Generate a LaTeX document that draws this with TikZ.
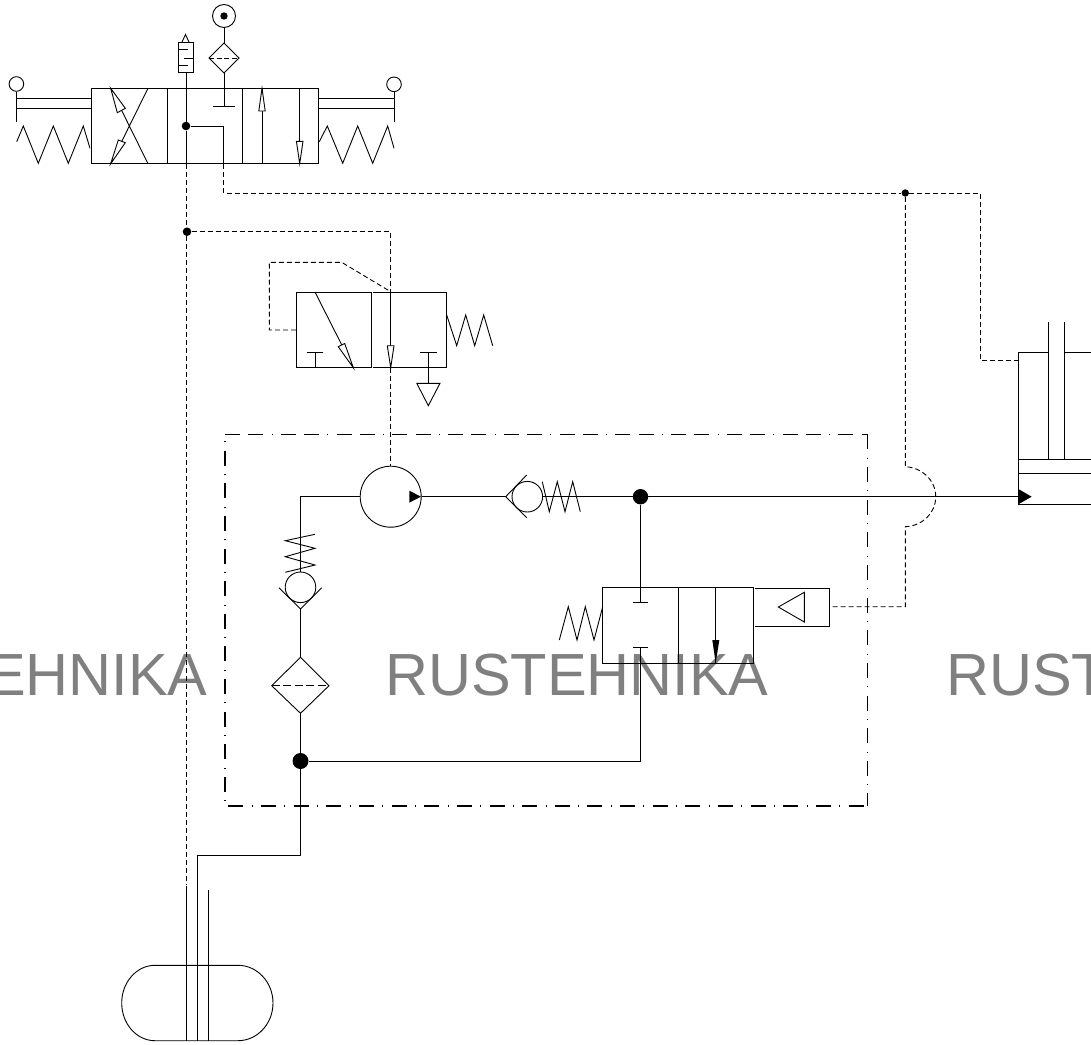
\documentclass[tikz,border=0pt]{standalone}
\usepackage{fontspec}
\setmainfont{Liberation Sans}
\tikzset{
  ln/.style={draw=black,line width=0.9pt,line join=miter},
  dsh/.style={draw=black,line width=0.9pt,dash pattern=on 5pt off 3pt},
  framea/.style={draw=black,line width=1.5pt,dash pattern=on 15pt off 8.3pt on 15pt off 8.4pt on 1pt off 8.05pt},
  frameb/.style={draw=black,line width=1.5pt,dash pattern=on 15pt off 8.35pt on 1pt off 8.3pt},
  dot/.style={circle,fill=black,draw=none,inner sep=0pt,minimum size=#1},
  ring/.style={circle,draw=black,line width=0.9pt,fill=white,inner sep=0pt,minimum size=#1},
  hollow/.style={draw=black,line width=0.9pt,fill=white},
  solid head/.style={draw=none,fill=black},
  wm/.style={text=black!50,font=\fontsize{59.5pt}{60pt}\selectfont,anchor=base west,inner sep=0pt}
}
\begin{document}
\begin{tikzpicture}[x=1pt,y=-1pt]
\useasboundingbox (0,0) rectangle (1091,1044);
\begin{scope}
\clip (0,0) rectangle (1091,1044);
% watermark
\node[wm] (wa) at (-176,695) {RUSTEHNIKA};
\node[wm] (wb) at (385,695) {RUSTEHNIKA};
\node[wm] (wc) at (946,695) {RUSTEHNIKA};

% ---- junction nodes
\node[dot=8.6pt] (j1) at (186,126) {};
\node[dot=8.6pt] (j2) at (187,231.7) {};
\node[dot=7.4pt] (j3) at (905.3,193) {};
\node[dot=15.4pt] (j4) at (640.5,496.7) {};
\node[dot=16pt] (j5) at (300.5,761) {};

% ---- named points
\coordinate (mufB) at (186,72.7);
\coordinate (v1bA) at (186,164);
\coordinate (v1bB) at (223.7,164);
\coordinate (stubB) at (223.7,126);
\coordinate (c1) at (223.7,193);
\coordinate (c2) at (980.7,193);
\coordinate (c3) at (980.7,360);
\coordinate (cylP) at (1018.3,360);
\coordinate (l1end) at (186,885);
\coordinate (l1sol) at (186,886);
\coordinate (tankB1) at (186,1040.7);
\coordinate (p1) at (390.7,231.7);
\coordinate (p2) at (390.7,291.7);
\coordinate (p3) at (390.7,367.7);
\coordinate (cylIn) at (1018.3,496.7);

% ---- top valve
\draw[ln] (91.7,88.3) rectangle (318.3,163.7);
\draw[ln] (167,88.3) -- (167,163.7) (242.7,88.3) -- (242.7,163.7);
% left actuator
\draw[ln] (16.5,98.5) -- (91.7,98.5) (16.5,108.3) -- (91.7,108.3);
\node[ring=14.6pt] (kl) at (16.4,84) {};
\draw[ln] (kl.south) -- (16.4,121.7);
\draw[ln] (16.7,141.7) -- (23.3,126) -- (38.3,163.3) -- (53.3,126) -- (68.3,163.3) -- (83.3,126) -- (90,148.3);
% right actuator
\draw[ln] (318.3,98.5) -- (394,98.5) (318.3,108.3) -- (394,108.3);
\node[ring=14.6pt] (kr) at (394,84.3) {};
\draw[ln] (kr.south) -- (394,121.7);
\draw[ln] (319.3,141.7) -- (327.3,126) -- (342.7,163.3) -- (357.7,126) -- (372.7,163.3) -- (387.7,126) -- (394,148.3);
% cross arrows
\draw[ln] (110.7,88.3) -- (148,163.7) (148,88.3) -- (110.7,163.7);
\draw[hollow] (110.7,88.3) -- (125.3,108.3) -- (117.3,112.7) -- cycle;
\draw[hollow] (110.7,163.7) -- (125.3,142.7) -- (118.3,140) -- cycle;
% muffler
\draw[ln] (178.7,42.7) rectangle (193.3,72.7);
\draw[ln] (181.7,42.7) -- (185.5,34.5) -- (189.3,42.7);
\draw[ln] (178.7,49.7) -- (188,49.7) (184,58) -- (193.3,58) (178.7,65) -- (188,65);
\draw[ln] (mufB) -- (j1) -- (v1bA);
\draw[ln] (j1) -- (stubB) -- (v1bB);
% filter and source
\node[ring=23pt] (src) at (224,16) {};
\node[dot=7.4pt] (srcd) at (224,16) {};
\draw[ln] (src.south) -- (224,43);
\draw[ln] (224,43) -- (239,58) -- (224,73) -- (209,58) -- cycle;
\draw[draw=black,line width=0.8pt,dash pattern=on 5pt off 2.5pt] (209,58) -- (239,58);
\draw[ln] (224,73) -- (224,106) (213.3,106) -- (235,106);
% straight arrows
\draw[ln] (262,88.3) -- (262,163.7);
\draw[hollow] (262,88.3) -- (265.2,111) -- (258.8,111) -- cycle;
\draw[ln] (299.7,88.3) -- (299.7,163.7);
\draw[hollow] (299.7,163.7) -- (296.4,141.3) -- (303,141.3) -- cycle;

% ---- pilot lines
\draw[dsh] (v1bB) -- (c1) -- (j3) -- (c2) -- (c3) -- (cylP);
\draw[dsh] (v1bA) -- (l1end);
\draw[dsh] (j2) -- (p1) -- (p2);
\draw[ln] (l1sol) -- (tankB1);

% ---- valve 2
\draw[ln] (296,292) rectangle (371.7,367.7);
\draw[ln] (372.9,292) -- (446.7,292) -- (446.7,367.7) -- (372.9,367.7);
\draw[dsh] (296,330) -- (269.3,330) -- (269.3,262.3) -- (341.7,262.3) -- (p2);
\draw[ln] (315,292) -- (353.3,367.7);
\draw[hollow] (353.3,367.7) -- (338.3,346.7) -- (344.7,343.5) -- cycle;
\draw[ln] (315,367.7) -- (315,352.3) (306.7,352.3) -- (323.3,352.3);
\draw[ln] (p2) -- (p3);
\draw[hollow] (p3) -- (394,345.7) -- (387.3,345.7) -- cycle;
\draw[ln] (428.3,352.3) -- (428.3,383.3) (420,352.3) -- (436.7,352.3);
\draw[ln] (416.8,383.3) -- (440,383.3) -- (428.3,405.7) -- cycle;
\draw[ln] (446.7,315) -- (456.7,345.7) -- (465.7,315) -- (474.7,345.7) -- (483.7,315) -- (492.7,345.7);

% ---- pump
\node[circle,draw=black,line width=0.9pt,inner sep=0pt,minimum size=61pt] (pump) at (390.7,496.7) {};
\draw[dsh] (p3) -- (pump.north);
\fill[solid head] (421,496.7) -- (409.3,490.7) -- (409.3,502.6) -- cycle;
% suction side
\node[circle,draw=black,line width=0.9pt,inner sep=0pt,minimum size=30.6pt] (cvA) at (300.5,587.3) {};
\draw[ln] (pump.west) -- (300.5,496.7) -- (cvA.north);
\draw[ln] (315,534.3) -- (285.3,540.7) -- (315,548.3) -- (285.3,556.7) -- (315,565) -- (285.3,572.3);
\draw[ln] (279,587.7) -- (300.5,609) -- (321.7,587.7);
\coordinate (fT) at (300.5,657.3);
\coordinate (fB) at (300.5,713.3);
\draw[ln] (300.5,609) -- (fT);
\draw[ln] (fT) -- (329,685.7) -- (fB) -- (271.7,685.7) -- cycle;
\draw[draw=black,line width=0.8pt,dash pattern=on 8pt off 3.5pt] (271.7,685.7) -- (329,685.7);
\draw[ln] (fB) -- (j5);
\draw[ln] (j5) -- (300.5,855) -- (197.3,855) -- (197.3,1040.7);
\draw[ln] (208.7,890) -- (208.7,1040.7);
% pressure side
\node[circle,draw=black,line width=0.9pt,inner sep=0pt,minimum size=30.6pt] (cvB) at (527.3,496.7) {};
\coordinate (seat) at (505.7,496.7);
\draw[ln] (526.7,475) -- (seat) -- (526.7,517.7);
\draw[ln] (pump.east) -- (seat);
\draw[ln] (cvB.east) -- (j4);
\draw[ln] (542.3,481.7) -- (549.3,511.7) -- (557.3,481.7) -- (565,511.7) -- (572.7,481.7) -- (580.3,511.7);
\draw[ln] (j4) -- (cylIn);
\draw[ln] (j4) -- (640.5,602.3);
\draw[ln] (632.7,602.3) -- (648,602.3);
\draw[ln] (632.7,647.7) -- (648,647.7);
\draw[ln] (640.5,647.7) -- (640.5,761) -- (j5);

% ---- valve 3
\draw[ln] (602.7,587.3) rectangle (753.3,663);
\draw[ln] (678,587.3) -- (678,663);
\draw[ln] (715.7,587.3) -- (715.7,663);
\fill[solid head] (715.7,663) -- (712.3,640) -- (719.3,640) -- cycle;
\draw[ln] (559.3,640) -- (568.3,606.7) -- (577,640) -- (585.3,606.7) -- (594,640) -- (602.7,606.7);
\draw[ln] (754.7,588.3) -- (829.3,588.3) -- (829.3,626) -- (754.7,626);
\draw[ln] (778.3,607) -- (804.3,592.3) -- (804.3,622) -- cycle;
\draw[dsh] (j3) -- (905.3,466.7) .. controls (922,467.5) and (935.7,480) .. (935.7,496.7) .. controls (935.7,513.5) and (922,526) .. (905.3,526.7) -- (905.3,606.7) -- (829.3,606.7);

% ---- dash-dot frame
\draw[framea] (225,434.3) -- (867.3,434.3);
\draw[frameb] (867.3,434.3) -- (867.3,806);
\draw[frameb] (228.3,806) -- (867.3,806);
\draw[frameb,dash phase=16.4pt] (225,434.3) -- (225,806);

% ---- cylinder
\draw[ln] (1018.3,352.7) -- (1018.3,504) -- (1091,504);
\draw[ln] (1018.3,352.7) -- (1048.7,352.7) (1064.3,352.7) -- (1091,352.7);
\draw[ln] (1048.7,322) -- (1048.7,459.3) (1064.3,322) -- (1064.3,459.3);
\draw[ln] (1018.3,459.3) -- (1091,459.3) (1018.3,473.3) -- (1091,473.3);
\fill[solid head] (1031.7,496.7) -- (1018.3,489) -- (1018.3,504.3) -- cycle;

% ---- tank
\draw[ln] (155,965.3) -- (238,965.3)
  .. controls (257.3,965.3) and (273,982.2) .. (273,1003)
  .. controls (273,1023.8) and (257.3,1040.7) .. (238,1040.7)
  -- (155,1040.7)
  .. controls (136.6,1040.7) and (121.7,1023.8) .. (121.7,1003)
  .. controls (121.7,982.2) and (136.6,965.3) .. (155,965.3) -- cycle;
\end{scope}
\end{tikzpicture}
\end{document}
